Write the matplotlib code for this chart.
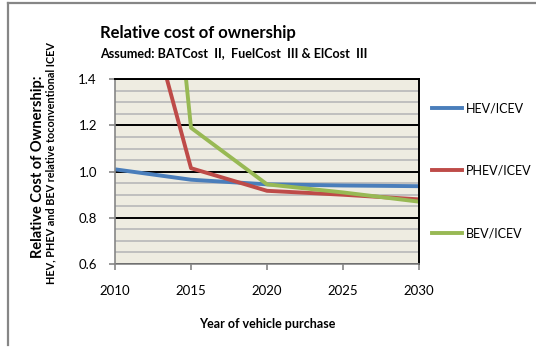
import numpy as np
import matplotlib.pyplot as plt
from matplotlib.lines import Line2D
from matplotlib.ticker import MultipleLocator

plt.rcParams['font.family'] = ['Lato', 'DejaVu Sans']

years = [2010, 2015, 2020, 2025, 2030]
hev = [1.01, 0.965, 0.945, 0.940, 0.937]
phev = [2.23, 1.015, 0.917, 0.900, 0.880]
bev = [4.40, 1.190, 0.945, 0.910, 0.870]

series = [
    ("HEV/ICEV", hev, "#4A7EBB"),
    ("PHEV/ICEV", phev, "#BE4B48"),
    ("BEV/ICEV", bev, "#98B954"),
]

fig = plt.figure(figsize=(5.36, 3.47), dpi=100)
ax = fig.add_axes([0.2146, 0.2392, 0.5671, 0.5323])
ax.set_facecolor("#EEECE1")

ax.set_xlim(2010, 2030)
ax.set_ylim(0.6, 1.4)
ax.xaxis.set_major_locator(MultipleLocator(5))
ax.yaxis.set_major_locator(MultipleLocator(0.2))
ax.yaxis.set_minor_locator(MultipleLocator(0.05))
ax.yaxis.set_major_formatter(plt.FuncFormatter(lambda v, p: f"{v:.1f}"))

# gridlines: grey minor, black major
ax.grid(True, axis="y", which="minor", color="#BFBFBF", lw=1.4)
ax.grid(True, axis="y", which="major", color="black", lw=1.4)
ax.set_axisbelow(True)

for name, vals, col in series:
    ax.plot(years, vals, color=col, lw=2.8, label=name, solid_capstyle="butt")

for s in ["left", "bottom"]:
    ax.spines[s].set_color("#868686")
    ax.spines[s].set_linewidth(1.2)
for s in ["top", "right"]:
    ax.spines[s].set_color("black")
    ax.spines[s].set_linewidth(1.4)

ax.tick_params(axis="both", which="major", direction="out", length=4, width=1.2,
               color="#868686", labelsize=9.5)
ax.tick_params(axis="x", which="major", pad=11)
ax.tick_params(axis="y", which="major", pad=9)
ax.tick_params(axis="y", which="minor", length=0)

ax.set_xlabel("Year of vehicle purchase", fontsize=9, fontweight="bold", labelpad=15)

# titles and y-labels
fig.text(0.187, 0.905, "Relative cost of ownership", fontsize=12, fontweight="bold",
         ha="left", va="center")
fig.text(0.187, 0.847, "Assumed: BATCost  II,  FuelCost  III & ElCost  III", fontsize=9.1,
         fontweight="bold", ha="left", va="center")
fig.text(0.070, 0.52, "Relative Cost of Ownership:", fontsize=10.5, fontweight="bold",
         rotation=90, ha="center", va="center")
fig.text(0.094, 0.53, "HEV, PHEV and BEV relative toconventional ICEV", fontsize=7.8,
         fontweight="bold", rotation=90, ha="center", va="center")

handles = [Line2D([0], [0], color=c, lw=2.8) for _, _, c in series]
labels = [n for n, _, _ in series]
fig.legend(handles, labels, loc="center left", bbox_to_anchor=(0.806, 0.508),
           frameon=False, fontsize=9, labelspacing=4.05, handlelength=2.4,
           handletextpad=0.3, borderpad=0, borderaxespad=0)

# outer chart border (top and left parts)
fig.add_artist(Line2D([0.015, 1.0], [0.990, 0.990], color="#868686", lw=1.6,
                      transform=fig.transFigure))
fig.add_artist(Line2D([0.015, 0.015], [0.005, 0.990], color="#868686", lw=1.6,
                      transform=fig.transFigure))

fig.savefig("out.png", dpi=100)
